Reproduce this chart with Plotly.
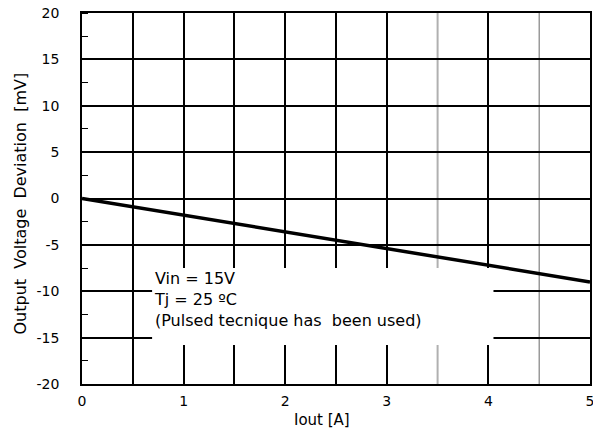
import plotly.graph_objects as go

iout = [0, 1, 2, 3, 4, 5]
deviation = [0, -1.8, -3.6, -5.4, -7.2, -9.0]
x_ticks = [0, 1, 2, 3, 4, 5]
x_half_black = [0.5, 1.5, 2.5]
x_half_gray = [3.5, 4.5]
gray_colors = ["#b0b0b0", "#808080"]
gray_widths = [2, 1.2]
y_ticks = [-20, -15, -10, -5, 0, 5, 10, 15, 20]
y_ticklabels = ["-20", "-15", "-10", "-5", "0", "5", "10", "15", "20"]
notes = ["Vin = 15V", "Tj = 25 ºC", "(Pulsed tecnique has  been used)"]

font = "DejaVu Sans, Liberation Sans, Arial, sans-serif"

fig = go.Figure()
fig.add_trace(go.Scatter(x=iout, y=deviation, mode="lines",
                         line=dict(color="black", width=3.5), hoverinfo="skip"))

# gray gridlines
for gx, gc, gw in zip(x_half_gray, gray_colors, gray_widths):
    fig.add_shape(type="line", xref="x", yref="paper", x0=gx, x1=gx, y0=0, y1=1,
                  line=dict(color=gc, width=gw), layer="between")

# white legend box
fig.add_shape(type="rect", xref="x", yref="y", x0=0.69, x1=4.05, y0=-15.8, y1=-7.5,
              fillcolor="white", line=dict(width=0), layer="between")

fig.add_annotation(xref="x", yref="y", x=0.69, y=-7.4, xanchor="left", yanchor="top",
                   align="left", showarrow=False,
                   text="<br>".join(notes),
                   font=dict(family=font, size=16, color="black"))

fig.add_annotation(xref="paper", yref="paper", x=(322 - 82) / 508, y=-(420 - 384) / 371,
                   xanchor="center", yanchor="middle", showarrow=False,
                   text="Iout [A]", font=dict(family=font, size=15, color="black"))
fig.add_annotation(xref="paper", yref="paper", x=-(82 - 20) / 508, y=(384 - 203.5) / 371,
                   xanchor="center", yanchor="middle", showarrow=False, textangle=-90,
                   text="Output  Voltage  Deviation  [mV]",
                   font=dict(family=font, size=16, color="black"))

fig.update_layout(
    width=593, height=432,
    margin=dict(l=82, r=3, t=13, b=48),
    plot_bgcolor="white", paper_bgcolor="white",
    showlegend=False,
    font=dict(family=font, size=14, color="black"),
    xaxis=dict(range=[0, 5], tickvals=x_ticks, ticktext=[str(v) for v in x_ticks],
               showgrid=True, gridcolor="black", gridwidth=1.5,
               minor=dict(tickvals=x_half_black, showgrid=True, gridcolor="black", gridwidth=1.5,
                          ticks=""),
               showline=True, linecolor="black", linewidth=1.5, mirror=True,
               ticks="", zeroline=False, automargin=False, ticklabelstandoff=3,
               ticklabeloverflow="allow", tickfont=dict(size=14)),
    yaxis=dict(range=[-20, 20], tickvals=y_ticks, ticktext=y_ticklabels,
               showgrid=True, gridcolor="black", gridwidth=1.5,
               minor=dict(dtick=2.5, tick0=-20, ticks="inside", ticklen=6, tickcolor="black",
                          tickwidth=1, showgrid=False),
               showline=True, linecolor="black", linewidth=1.5, mirror=True,
               ticks="", zeroline=False, ticklabelstandoff=18, automargin=False,
               ticklabeloverflow="allow", tickfont=dict(size=14)),
)

fig.write_html("out.html", config={"displayModeBar": False},
               post_script="document.body.style.margin='0';document.body.style.overflow='hidden';")
